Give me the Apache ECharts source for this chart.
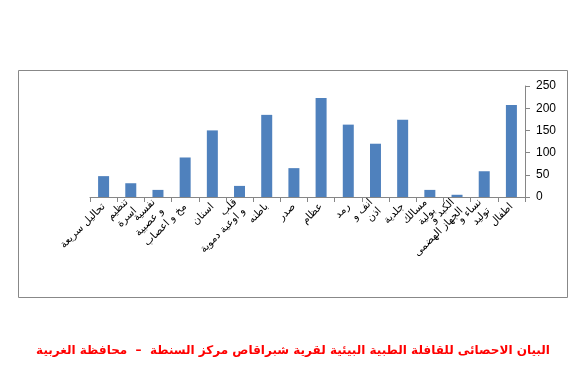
<!DOCTYPE html>
<html><head><meta charset="utf-8">
<script src="https://cdn.jsdelivr.net/npm/echarts@6/dist/echarts.min.js"></script>
<style>html,body{margin:0;padding:0;background:#fff}#c{width:586px;height:369px}</style>
</head><body><div id="c"></div>
<script>
var categories = ['تحاليل سريعة','تنظيم\nاسرة','نفسية\nو عصبية','مخ و اعصاب','اسنان','قلب\nو اوعية دموية','باطنه','صدر','عظام','رمد','انف و\nاذن','جلدية','مسالك\nبولية','الكبد و\nالجهاز الهضمى','نساء و\nتوليد','اطفال'];
var values = [47,31,16,89,150,25,185,65,223,163,120,174,16,5,58,207];
var yTicks = [0,50,100,150,200,250];
var titleText = 'البيان الاحصائى للقافلة الطبية البيئية لقرية شبراقاص مركز السنطة  –  محافظة الغربية';

var chart = echarts.init(document.getElementById('c'), null, {renderer:'canvas'});
chart.setOption({
  animation:false,
  title:{text:titleText,left:'center',top:340,textStyle:{color:'#ff0000',fontSize:12,fontWeight:'bold',fontFamily:'DejaVu Sans'}},
  graphic:[{type:'rect',shape:{x:18.5,y:70.5,width:549,height:227},style:{fill:'none',stroke:'#888888',lineWidth:1},silent:true}],
  grid:{left:90,right:61,top:86,bottom:172,containLabel:false},
  xAxis:{type:'category',data:categories,
    axisLine:{lineStyle:{color:'#868686'}},
    axisTick:{show:true,alignWithLabel:false,length:5,lineStyle:{color:'#868686'}},
    axisLabel:{rotate:45,interval:0,color:'#000',fontSize:10.5,fontFamily:'DejaVu Sans',margin:8,lineHeight:12}},
  yAxis:{type:'value',position:'right',min:yTicks[0],max:yTicks[yTicks.length-1],interval:50,
    axisLine:{show:true,lineStyle:{color:'#868686'}},
    axisTick:{show:true,length:5,lineStyle:{color:'#868686'}},
    splitLine:{show:false},
    axisLabel:{color:'#000',fontSize:12,fontFamily:'Liberation Sans',margin:11}},
  series:[{type:'bar',data:values,barWidth:11,itemStyle:{color:'#4f81bd'}}]
});
</script></body></html>
